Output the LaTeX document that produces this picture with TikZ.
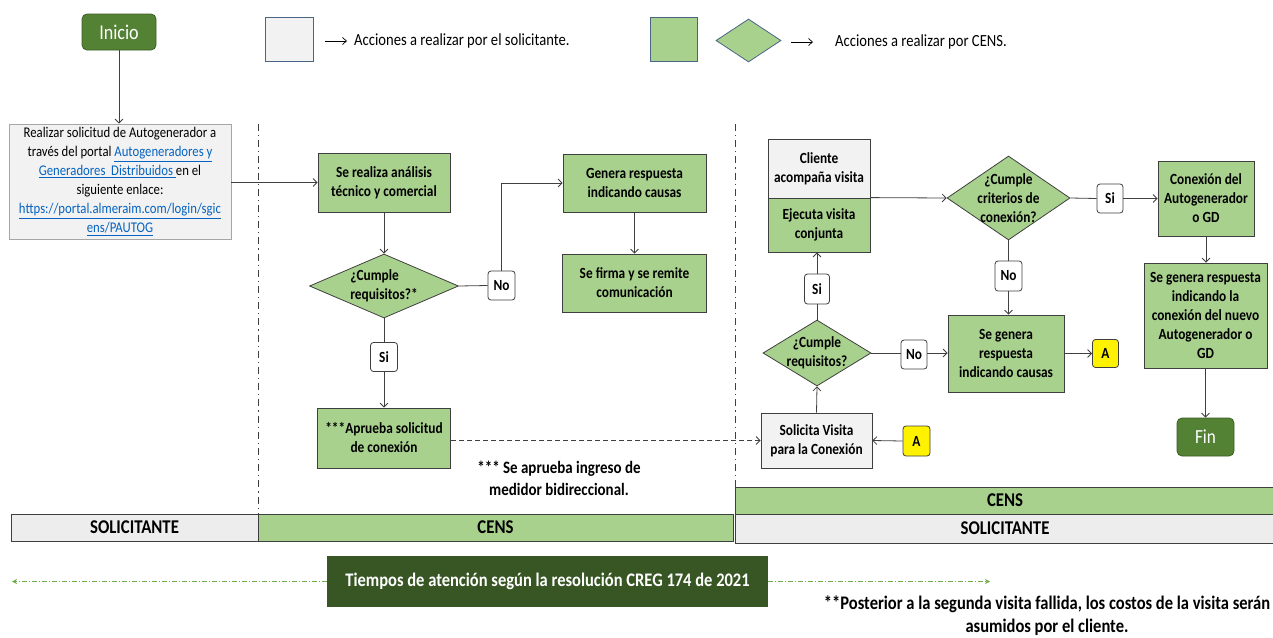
\documentclass[tikz,border=0pt]{standalone}
\usepackage{fontspec}
\setmainfont[FakeStretch=0.86]{Carlito}
\usetikzlibrary{shapes.geometric,arrows.meta}
\definecolor{gfill}{HTML}{A9D18E}
\definecolor{bord}{HTML}{3F3F3F}
\definecolor{lgray}{HTML}{F2F2F2}
\definecolor{lanegrayc}{HTML}{EDEDED}
\definecolor{reqbord}{HTML}{A6A6A6}
\definecolor{startc}{HTML}{548235}
\definecolor{startb}{HTML}{3B5E25}
\definecolor{darkg}{HTML}{375623}
\definecolor{legb}{HTML}{4A6485}
\definecolor{linkblue}{HTML}{0563C1}
\definecolor{timec}{HTML}{70AD47}
\definecolor{lineC}{HTML}{404040}
\newcommand\boxfont{\fontsize{15.5}{19}\selectfont\bfseries}
\newcommand\reqfont{\fontsize{14.8}{19}\selectfont}
\newcommand\lnk[1]{\textcolor{linkblue}{\underline{#1}}}
\tikzset{
  gbox/.style={draw=bord, line width=0.8pt, fill=gfill, inner sep=0pt, align=center, font=\boxfont},
  wbox/.style={draw=bord, line width=0.8pt, fill=lgray, inner sep=0pt, align=center, font=\boxfont},
  dia/.style={diamond, draw=bord, line width=0.8pt, fill=gfill, inner sep=0pt},
  lbl/.style={draw=bord, line width=0.8pt, fill=white, rounded corners=3pt, inner sep=0pt, minimum width=27pt, minimum height=29pt, font=\boxfont},
  abox/.style={draw=bord, line width=0.8pt, fill=yellow, rounded corners=3pt, inner sep=0pt, minimum width=26pt, minimum height=29pt, font=\boxfont},
  startend/.style={draw=startb, line width=0.8pt, fill=startc, rounded corners=5pt, text=white, inner sep=0pt, font=\fontsize{21}{23}\selectfont},
  conn/.style={draw=lineC, line width=0.8pt, -{Straight Barb[length=4pt,width=8pt]}},
  plain/.style={draw=lineC, line width=0.8pt},
  lane/.style={draw=bord, line width=0.8pt, inner sep=0pt, font=\fontsize{19.5}{21}\selectfont\bfseries},
  dashdotline/.style={draw=lineC, line width=0.8pt, dash pattern=on 7pt off 4pt on 1.2pt off 4pt},
  legbox/.style={draw=legb, line width=0.8pt, inner sep=0pt},
  legarrow/.style={draw=black, line width=0.7pt, -{Straight Barb[length=4pt,width=7pt]}},
  timearrow/.style={draw=timec, line width=0.9pt, dash pattern=on 5pt off 2pt on 1pt off 2pt, -{Stealth[length=5pt,width=5pt]}},
}
\begin{document}
\begin{tikzpicture}[x=1pt,y=-1pt]
\useasboundingbox (0,0) rectangle (1273,637);

% legend
\node[legbox, fill=lgray, minimum width=48pt, minimum height=44pt] (leg1) at (289,39) {};
\node[anchor=west, inner sep=0pt, font=\fontsize{17}{19}\selectfont] (legt1) at (354,41) {Acciones a realizar por el solicitante.};
\draw[legarrow, shorten <=12pt, shorten >=7pt] (leg1.east |- legt1.west) -- (legt1.west);
\node[legbox, fill=gfill, minimum width=47pt, minimum height=44pt] (leg2) at (673.5,39) {};
\node[legbox, diamond, fill=gfill, minimum width=65pt, minimum height=43pt] (leg3) at (748.5,40.5) {};
\node[anchor=west, inner sep=0pt, font=\fontsize{17}{19}\selectfont] (legt2) at (835,42) {Acciones a realizar por CENS.};
\draw[legarrow, shorten <=10pt, shorten >=22pt] (leg3.east |- legt2.west) -- (legt2.west);

% swimlane separators
\draw[dashdotline] (258,124) -- (258,514);
\draw[dashdotline] (735,124) -- (735,487);

% left part
\node[startend, minimum width=74pt, minimum height=36pt] (ini) at (119,32) {Inicio};
\node[draw=reqbord, line width=0.8pt, fill=lgray, inner sep=0pt, align=center, font=\reqfont, minimum width=222pt, minimum height=115pt] (req) at (120,181.5)
  {Realizar solicitud de Autogenerador a\\través del portal \lnk{Autogeneradores y}\\\lnk{Generadores\ \ Distribuidos\ }en el\\siguiente enlace:\\\lnk{https://portal.almeraim.com/login/sgic}\\\lnk{ens/PAUTOG}};
\draw[conn] (ini.south) -- (ini.south |- req.north);

\node[gbox, minimum width=132pt, minimum height=59pt] (ana) at (384,182.5) {Se realiza análisis\\técnico y comercial};
\draw[conn] (req.east |- ana.west) -- (ana.west);
\node[dia, minimum width=149pt, minimum height=64pt] (d1) at (384,286) {};
\node[align=left, font=\boxfont, inner sep=0pt] (d1t) at (384,286) {¿Cumple\\requisitos?*};
\draw[conn] (ana.south) -- (d1.north);
\node[lbl] (no1) at (501.5,285.5) {No};
\draw[plain] (d1.east) -- (no1.west);
\node[gbox, minimum width=143pt, minimum height=58pt] (gen1) at (634.5,183) {Genera respuesta\\indicando causas};
\draw[conn] (no1.north) |- (gen1.west);
\node[gbox, minimum width=144pt, minimum height=58pt] (firma) at (634.5,283) {Se firma y se remite\\comunicación};
\draw[conn] (gen1.south) -- (firma.north);
\node[lbl] (si1) at (384,357) {Si};
\draw[plain] (d1.south) -- (si1.north);
\node[gbox, minimum width=133pt, minimum height=60pt] (apr) at (384,438) {***Aprueba solicitud\\de conexión};
\draw[conn] (si1.south) -- (apr.north);
\node[align=center, inner sep=0pt, font=\fontsize{17.4}{22}\selectfont\bfseries] (note) at (559,478) {*** Se aprueba ingreso de\\medidor bidireccional.};

% right part
\node[wbox, minimum width=111pt, minimum height=55pt] (sol) at (816.5,440.5) {Solicita Visita\\para la Conexión};
\draw[conn, dashed, dash pattern=on 5pt off 3pt] (apr.east |- sol.west) -- (sol.west);
\node[abox, minimum width=27pt, minimum height=30pt] (a1) at (916.5,441) {A};
\draw[conn] (a1.west) -- (sol.east);
\node[dia, minimum width=108pt, minimum height=66pt] (d2) at (817,353) {};
\node[align=center, font=\boxfont, inner sep=0pt] (d2t) at (817,353) {¿Cumple\\requisitos?};
\draw[conn] (sol.north) -- (d2.south);
\node[lbl, minimum width=25pt, minimum height=30pt] (si2) at (817,289) {Si};
\draw[plain] (d2.north) -- (si2.south);
\node[wbox, minimum width=102pt, minimum height=59pt] (cli) at (819,168.5) {Cliente\\acompaña visita};
\node[gbox, minimum width=102pt, minimum height=54pt] (eje) at (819,225) {Ejecuta visita\\conjunta};
\draw[conn] (si2.north) -- (si2.north |- eje.south);
\node[dia, minimum width=123pt, minimum height=84pt] (d3) at (1008.5,198) {};
\node[align=center, font=\boxfont, inner sep=0pt] (d3t) at (1008.5,198) {¿Cumple\\criterios de\\conexión?};
\draw[conn] (eje.north east) -- (d3.west);
\node[lbl, minimum width=26pt] (si3) at (1110,198.5) {Si};
\draw[plain] (d3.east) -- (si3.west);
\node[gbox, minimum width=96pt, minimum height=75pt] (con) at (1206,198.5) {Conexión del\\Autogenerador\\o GD};
\draw[conn] (si3.east) -- (con.west |- si3.east);
\node[gbox, minimum width=123pt, minimum height=105pt] (resp) at (1205.5,315.5) {Se genera respuesta\\indicando la\\conexión del nuevo\\Autogenerador o\\GD};
\draw[conn] (con.south) -- (con.south |- resp.north);
\node[startend, minimum width=57pt, minimum height=38pt, font=\fontsize{20}{22}\selectfont] (fin) at (1205.5,437) {Fin};
\draw[conn] (resp.south) -- (fin.north);
\node[lbl, minimum height=30pt] (no3) at (1008.5,276) {No};
\draw[plain] (d3.south) -- (no3.north);
\node[gbox, minimum width=116pt, minimum height=77pt] (gen2) at (1006,353.5) {Se genera\\respuesta\\indicando causas};
\draw[conn] (no3.south) -- (no3.south |- gen2.north);
\node[lbl, minimum width=26pt] (no2) at (914,354.5) {No};
\draw[plain] (d2.east) -- (no2.west |- d2.east);
\draw[conn] (no2.east |- d2.east) -- (gen2.west |- d2.east);
\node[abox, minimum width=26pt, minimum height=28pt] (a2) at (1105.5,353.5) {A};
\draw[conn] (gen2.east |- a2.west) -- (a2.west);

% lanes
\node[lane, fill=lanegrayc, minimum width=247pt, minimum height=27pt] (l1) at (134.5,527.5) {SOLICITANTE};
\node[lane, fill=gfill, minimum width=475pt, minimum height=27pt] (l2) at (495.5,527.5) {CENS};
\node[lane, fill=gfill, minimum width=540pt, minimum height=27pt] (r1) at (1005,500.5) {CENS};
\node[lane, fill=lanegrayc, minimum width=540pt, minimum height=29pt] (r2) at (1005,528.5) {SOLICITANTE};

% bottom
\node[fill=darkg, text=white, inner sep=0pt, minimum width=441pt, minimum height=51pt, font=\fontsize{19.2}{21}\selectfont\bfseries] (tiempos) at (547.5,581.5) {Tiempos de atención según la resolución CREG 174 de 2021};
\coordinate (tl) at (12,581.5);
\coordinate (tr) at (990,581.5);
\draw[timearrow] (tiempos.west) -- (tl);
\draw[timearrow] (tiempos.east) -- (tr);
\node[align=center, inner sep=0pt, font=\fontsize{19.2}{23}\selectfont\bfseries] (foot) at (1047,616) {**Posterior a la segunda visita fallida, los costos de la visita serán\\asumidos por el cliente.};
\end{tikzpicture}
\end{document}
